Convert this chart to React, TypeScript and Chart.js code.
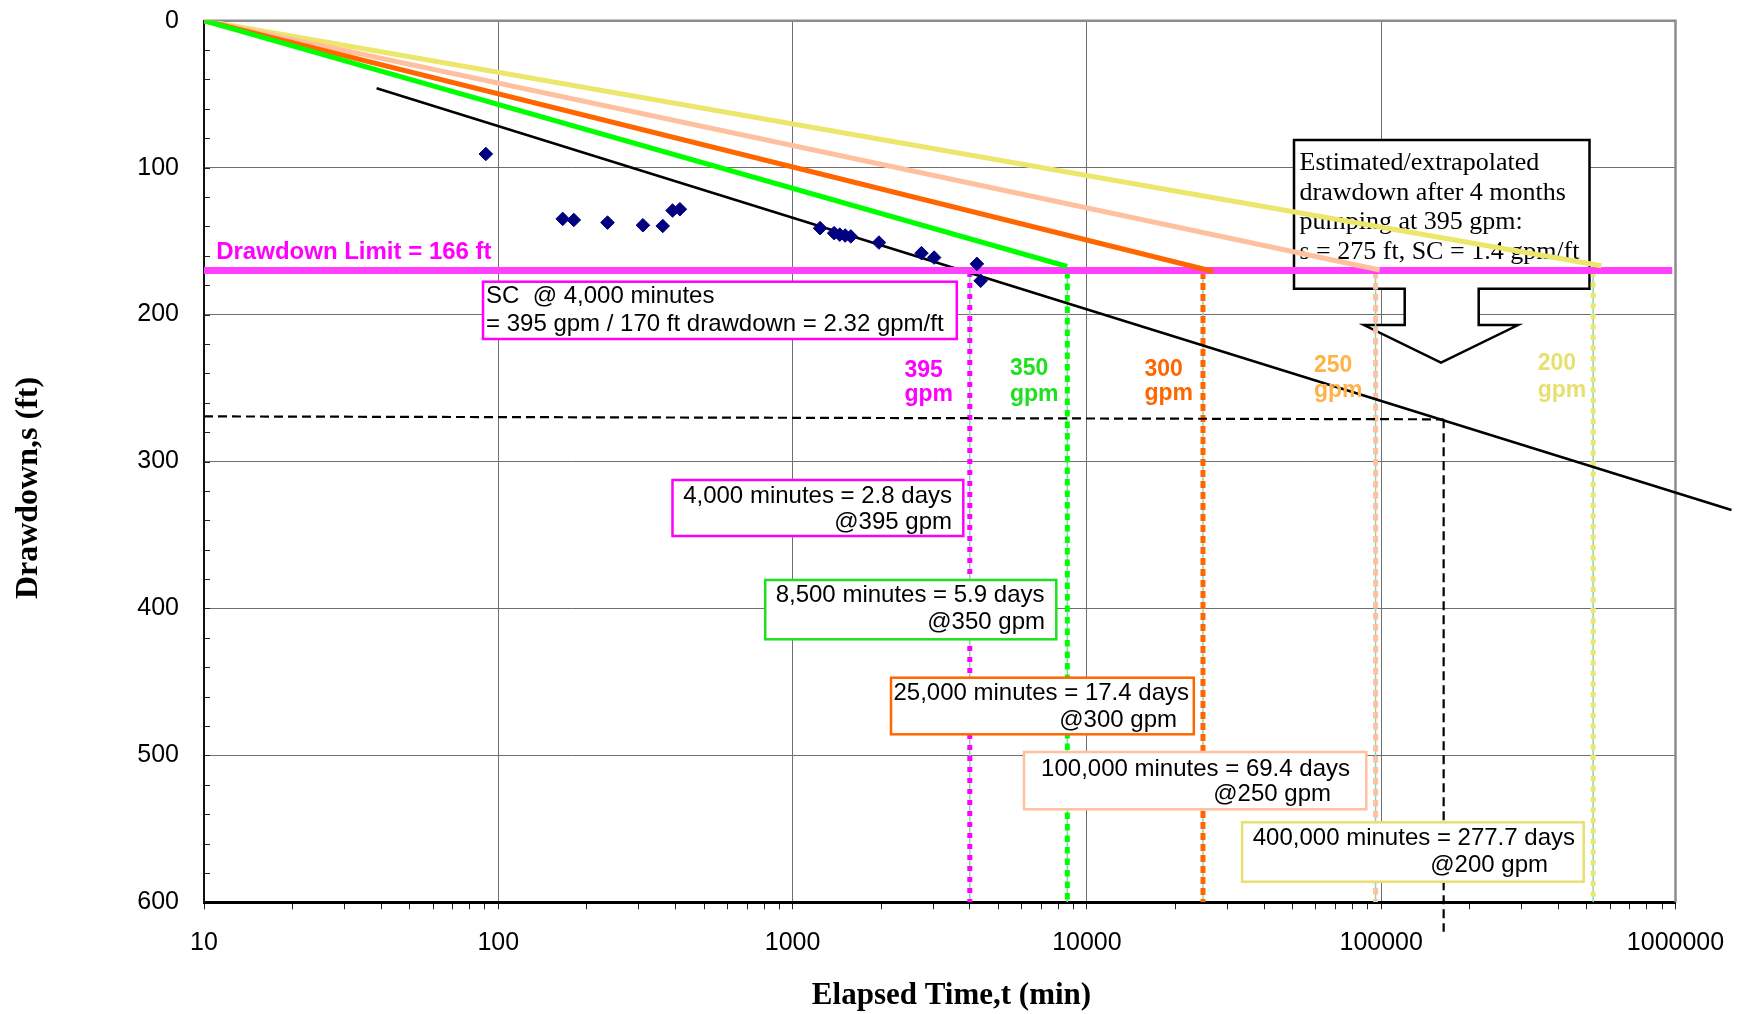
import React, { useEffect, useRef } from 'react';
import { Chart, registerables } from 'chart.js';

Chart.register(...registerables);

// ---------------- data ----------------
const obsTime = [90.7, 165.5, 180.5, 235, 310, 362, 391, 414, 1240, 1384, 1446, 1509, 1577, 1965, 2741, 3026, 4229, 4356];
const obsDrawdown = [90.7, 134.9, 135.6, 137.4, 139.2, 139.7, 129.2, 128.3, 141.2, 144.6, 145.6, 146.2, 146.8, 151.0, 158.2, 161.2, 165.5, 177.0];

const trendTime = [38.6, 1550000];
const trendDrawdown = [46, 333];

const limitTime = [10, 975000];
const limitDrawdown = [170, 170];

const proj350Time = [10, 8570];
const proj350Dd = [0, 167.3];
const proj300Time = [10, 26900];
const proj300Dd = [0, 170.7];
const proj250Time = [10, 98800];
const proj250Dd = [0, 169.7];
const proj200Time = [10, 560000];
const proj200Dd = [0, 166.8];

const rates = ['395', '350', '300', '250', '200'];
const limitReachTime = [4000, 8580, 24800, 95700, 525000];
const limitReachTop = [171, 171, 171, 171, 171];
const limitReachBottom = [600, 600, 600, 600, 600];

const extrapHTime = [10, 163000];
const extrapHDd = [269.3, 271.3];
const extrapVTime = [163000, 163000];
const extrapVDd = [271.3, 620];

const xDecadeLabels = ['10', '100', '1000', '10000', '100000', '1000000'];
const yTickLabels = ['0', '100', '200', '300', '400', '500', '600'];

// ---------------- styles ----------------
const SANS = '"Liberation Sans", Arial, sans-serif';
const SERIF = '"Liberation Serif", "Times New Roman", serif';
const GRID = '#6e6e6e';
const TEAL = '#8ad6b6';
const rateLineColor = ['#ff00ff', '#00ff00', '#ff6600', '#ffc0a0', '#ece66a'];
const rateTextColor = ['#ff00ff', '#1ee01e', '#ff6600', '#ffb347', '#e6e070'];
const rateDash = [[5, 6], [6.5, 5], [7, 4], [6.5, 4.5], [5, 5.5]];

const pts = (xs: number[], ys: number[]) => xs.map((x, i) => ({ x, y: ys[i] }));

const isDecade = (v: number) => {
  if (!v || v <= 0) return false;
  const l = Math.log10(v);
  return Math.abs(l - Math.round(l)) < 1e-9;
};

function buildLogTicks() {
  const out: any[] = [];
  for (let e = 1; e <= 6; e++) {
    const base = Math.pow(10, e);
    for (let m = 1; m <= 9; m++) {
      const v = m * base;
      if (v > 1e6 + 1) break;
      out.push({ value: v, major: m === 1 });
    }
  }
  return out;
}

// ---------------- annotation layout (page pixels) ----------------
type Line = { text: string; x: number; y: number; align: CanvasTextAlign };
type Box = { l: number; t: number; r: number; b: number; color: string; lines: Line[] };

const boxes: Box[] = [
  {
    l: 483, t: 281.7, r: 956.8, b: 339, color: '#ff00ff',
    lines: [
      { text: 'SC  @ 4,000 minutes', x: 486, y: 296.7, align: 'left' },
      { text: '= 395 gpm / 170 ft drawdown = 2.32 gpm/ft', x: 486, y: 324.3, align: 'left' },
    ],
  },
  {
    l: 672.5, t: 480, r: 963.3, b: 536, color: '#ff00ff',
    lines: [
      { text: '4,000 minutes = 2.8 days', x: 952, y: 496.7, align: 'right' },
      { text: '@395 gpm', x: 952, y: 522.3, align: 'right' },
    ],
  },
  {
    l: 765.2, t: 580, r: 1056.3, b: 639.3, color: '#1ee01e',
    lines: [
      { text: '8,500 minutes = 5.9 days', x: 1044.5, y: 595.7, align: 'right' },
      { text: '@350 gpm', x: 1045, y: 622, align: 'right' },
    ],
  },
  {
    l: 891, t: 677.7, r: 1193.8, b: 734.3, color: '#ff6600',
    lines: [
      { text: '25,000 minutes = 17.4 days', x: 1189, y: 693.3, align: 'right' },
      { text: '@300 gpm', x: 1177, y: 720, align: 'right' },
    ],
  },
  {
    l: 1024, t: 752, r: 1366.3, b: 809.3, color: '#ffc0a0',
    lines: [
      { text: '100,000 minutes = 69.4 days', x: 1350, y: 769, align: 'right' },
      { text: '@250 gpm', x: 1331, y: 794.5, align: 'right' },
    ],
  },
  {
    l: 1242.1, t: 822.3, r: 1583.7, b: 881.7, color: '#e8e070',
    lines: [
      { text: '400,000 minutes = 277.7 days', x: 1575, y: 838.3, align: 'right' },
      { text: '@200 gpm', x: 1548, y: 865.7, align: 'right' },
    ],
  },
];

const rateLabelPos = [
  { x: 904.4, y1: 376.7, y2: 400.7 },
  { x: 1010, y1: 375, y2: 401 },
  { x: 1144.5, y1: 376, y2: 400 },
  { x: 1314, y1: 371.7, y2: 396.7 },
  { x: 1537.7, y1: 370, y2: 396.5 },
];

const calloutLines = [
  'Estimated/extrapolated',
  'drawdown after 4 months',
  'pumping at 395 gpm:',
  's = 275 ft, SC = 1.4 gpm/ft',
];

const decor = {
  id: 'decor',
  beforeDatasetsDraw(chart: any) {
    const ctx = chart.ctx as CanvasRenderingContext2D;
    const ca = chart.chartArea;
    const ys = chart.scales.y;
    ctx.save();
    // top & right plot border
    ctx.strokeStyle = '#8c8c8c';
    ctx.lineWidth = 2.5;
    ctx.beginPath();
    ctx.moveTo(ca.left, ca.top);
    ctx.lineTo(ca.right, ca.top);
    ctx.lineTo(ca.right, ca.bottom);
    ctx.stroke();
    // inside minor ticks on y axis
    ctx.strokeStyle = '#222';
    ctx.lineWidth = 1;
    for (let v = 20; v < 600; v += 20) {
      const py = Math.round(ys.getPixelForValue(v)) + 0.5;
      ctx.beginPath();
      ctx.moveTo(ca.left, py);
      ctx.lineTo(ca.left + 6, py);
      ctx.stroke();
    }
    // callout box with down arrow
    ctx.beginPath();
    ctx.moveTo(1294, 140);
    ctx.lineTo(1589.5, 140);
    ctx.lineTo(1589.5, 288.7);
    ctx.lineTo(1478.7, 288.7);
    ctx.lineTo(1478.7, 325);
    ctx.lineTo(1518, 325);
    ctx.lineTo(1441, 362.7);
    ctx.lineTo(1364, 325);
    ctx.lineTo(1404.7, 325);
    ctx.lineTo(1404.7, 288.7);
    ctx.lineTo(1294, 288.7);
    ctx.closePath();
    ctx.fillStyle = '#fff';
    ctx.fill();
    ctx.strokeStyle = '#000';
    ctx.lineWidth = 2.5;
    ctx.lineJoin = 'miter';
    ctx.stroke();
    ctx.fillStyle = '#000';
    ctx.font = `26px ${SERIF}`;
    ctx.textAlign = 'left';
    ctx.textBaseline = 'alphabetic';
    const bl = [170, 199.5, 229, 258.5];
    calloutLines.forEach((t, i) => ctx.fillText(t, 1299.5, bl[i]));
    ctx.restore();
  },
  afterDatasetsDraw(chart: any) {
    const ctx = chart.ctx as CanvasRenderingContext2D;
    ctx.save();
    // annotation boxes
    boxes.forEach((b) => {
      ctx.fillStyle = '#fff';
      ctx.fillRect(b.l, b.t, b.r - b.l, b.b - b.t);
      ctx.strokeStyle = b.color;
      ctx.lineWidth = 2.5;
      ctx.strokeRect(b.l, b.t, b.r - b.l, b.b - b.t);
      ctx.fillStyle = '#000';
      ctx.font = `24px ${SANS}`;
      ctx.textBaseline = 'middle';
      b.lines.forEach((ln) => {
        ctx.textAlign = ln.align;
        ctx.fillText(ln.text, ln.x, ln.y);
      });
    });
    // rate labels
    ctx.font = `bold 23px ${SANS}`;
    ctx.textAlign = 'left';
    ctx.textBaseline = 'alphabetic';
    rates.forEach((r, i) => {
      const p = rateLabelPos[i];
      ctx.fillStyle = rateTextColor[i];
      ctx.fillText(r, p.x, p.y1);
      ctx.fillText('gpm', p.x, p.y2);
    });
    // drawdown limit label
    ctx.font = `bold 24px ${SANS}`;
    ctx.fillStyle = '#ff00ff';
    ctx.fillText('Drawdown Limit = 166 ft', 216.2, 259);
    // axis titles
    ctx.fillStyle = '#000';
    ctx.font = `bold 31px ${SERIF}`;
    ctx.textAlign = 'center';
    ctx.fillText('Elapsed Time,t (min)', 951.5, 1004);
    ctx.save();
    ctx.font = `bold 32px ${SERIF}`;
    ctx.translate(37, 488);
    ctx.rotate(-Math.PI / 2);
    ctx.fillText('Drawdown,s (ft)', 0, 0);
    ctx.restore();
    ctx.restore();
  },
};

export default function App() {
  const ref = useRef<HTMLCanvasElement | null>(null);

  useEffect(() => {
    document.body.style.margin = '0';
    const canvas = ref.current;
    if (!canvas) return;

    const lineDs = (label: string, data: any[], color: string, width: number, order: number, extra: any = {}) => ({
      label,
      data,
      borderColor: color,
      backgroundColor: color,
      borderWidth: width,
      pointRadius: 0,
      pointHoverRadius: 0,
      fill: false,
      tension: 0,
      borderCapStyle: 'butt',
      order,
      ...extra,
    });

    const datasets: any[] = [];
    // teal centre lines + dotted verticals
    rates.forEach((r, i) => {
      const d = pts([limitReachTime[i], limitReachTime[i]], [limitReachTop[i], limitReachBottom[i]]);
      datasets.push(lineDs(`teal ${r}`, d, TEAL, 1.5, 20));
      datasets.push(lineDs(`reach ${r}`, d, rateLineColor[i], 5, 19, { borderDash: rateDash[i] }));
    });
    datasets.push(lineDs('trend 395', pts(trendTime, trendDrawdown), '#000', 2.5, 15, { clip: false }));
    datasets.push(lineDs('extrap h', pts(extrapHTime, extrapHDd), '#000', 2.2, 15, { borderDash: [9, 5] }));
    datasets.push(lineDs('extrap v', pts(extrapVTime, extrapVDd), '#000', 2.2, 15, { borderDash: [9, 5], clip: false }));
    datasets.push(lineDs('limit', pts(limitTime, limitDrawdown), '#ff40ff', 7, 12));
    datasets.push(lineDs('350 gpm', pts(proj350Time, proj350Dd), rateLineColor[1], 5, 10));
    datasets.push(lineDs('300 gpm', pts(proj300Time, proj300Dd), rateLineColor[2], 5, 10));
    datasets.push(lineDs('250 gpm', pts(proj250Time, proj250Dd), rateLineColor[3], 5, 10));
    datasets.push(lineDs('200 gpm', pts(proj200Time, proj200Dd), rateLineColor[4], 5, 10));
    datasets.push({
      label: 'observed',
      data: pts(obsTime, obsDrawdown),
      showLine: false,
      pointStyle: 'rectRot',
      pointRadius: 6.8,
      pointHoverRadius: 6.8,
      pointBackgroundColor: '#000080',
      pointBorderColor: '#000080',
      pointBorderWidth: 1,
      borderColor: '#000080',
      backgroundColor: '#000080',
      order: 1,
    });

    const chart = new Chart(canvas, {
      type: 'line',
      data: { datasets },
      options: {
        animation: false,
        responsive: false,
        devicePixelRatio: 1,
        events: [],
        layout: { padding: { left: 0, top: 20.7, right: 63.5, bottom: 0 } },
        plugins: {
          legend: { display: false },
          tooltip: { enabled: false },
          title: { display: false },
        },
        scales: {
          x: {
            type: 'logarithmic',
            min: 10,
            max: 1e6,
            position: 'bottom',
            afterBuildTicks: (s: any) => {
              s.ticks = buildLogTicks();
            },
            afterFit: (s: any) => {
              s.height = 111.7;
            },
            grid: {
              color: (c: any) => (c.tick && isDecade(c.tick.value) ? GRID : 'rgba(0,0,0,0)'),
              lineWidth: 1,
              drawTicks: true,
              tickLength: 7,
              tickColor: '#222',
              tickWidth: 1,
            },
            border: { color: '#000', width: 3 },
            ticks: {
              autoSkip: false,
              maxRotation: 0,
              minRotation: 0,
              padding: 0,
              color: '#000',
              font: { family: SANS, size: 25, lineHeight: '68px' },
              callback: (v: any) => (isDecade(Number(v)) ? xDecadeLabels[Math.round(Math.log10(Number(v))) - 1] : ''),
            },
          },
          y: {
            type: 'linear',
            min: 0,
            max: 600,
            reverse: true,
            afterFit: (s: any) => {
              s.width = 204;
            },
            grid: {
              color: (c: any) => (c.tick && Math.round(c.tick.value) % 100 === 0 ? GRID : 'rgba(0,0,0,0)'),
              lineWidth: 1,
              drawTicks: true,
              tickLength: 25,
              tickColor: 'rgba(0,0,0,0)',
            },
            border: { color: '#111', width: 2 },
            ticks: {
              stepSize: 20,
              autoSkip: false,
              padding: 0,
              color: '#000',
              font: { family: SANS, size: 25 },
              callback: (v: any) => (Math.round(Number(v)) % 100 === 0 ? yTickLabels[Math.round(Number(v)) / 100] : ''),
            },
          },
        },
      } as any,
      plugins: [decor as any],
    });

    return () => {
      chart.destroy();
    };
  }, []);

  return (
    <div style={{ width: 1739, height: 1014, background: '#fff' }}>
      <canvas ref={ref} width={1739} height={1014} style={{ display: 'block' }} />
    </div>
  );
}
